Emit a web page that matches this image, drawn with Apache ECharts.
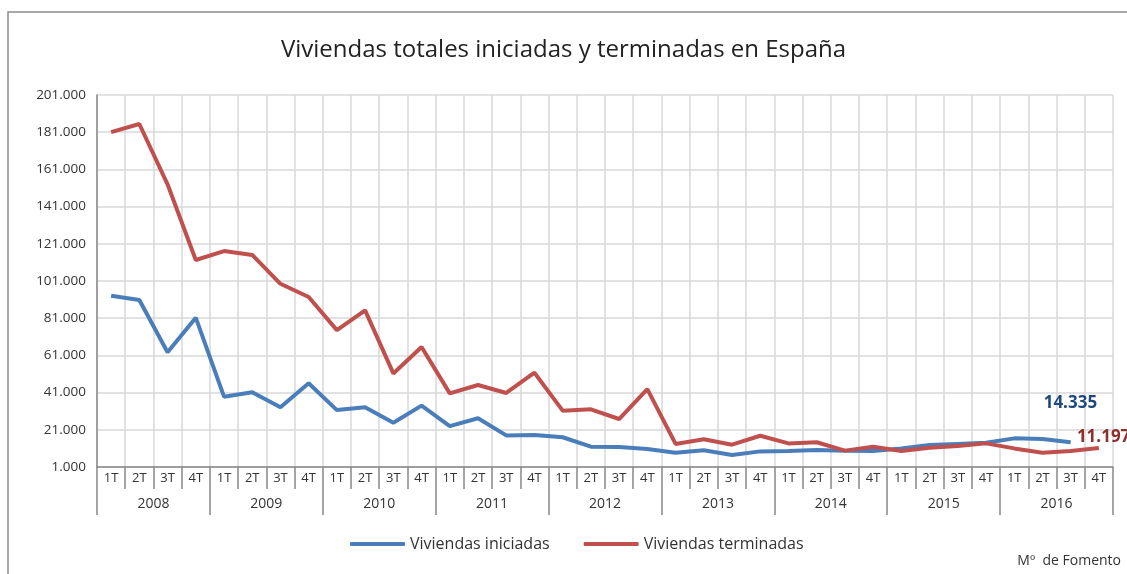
<!DOCTYPE html>
<html>
<head>
<meta charset="utf-8">
<script src="https://cdn.jsdelivr.net/npm/echarts@6/dist/echarts.min.js"></script>
<style>
  html, body { margin: 0; padding: 0; background: #fff; }
  #chart { width: 1127px; height: 574px; }
</style>
</head>
<body>
<div id="chart"></div>
<script>
// quarters and years on the two-level x axis
var quarters = [];
var years = ['2008', '2009', '2010', '2011', '2012', '2013', '2014', '2015', '2016'];
years.forEach(function () {
    quarters.push('1T', '2T', '3T', '4T');
});

// Viviendas iniciadas (ends 3T 2016)
var iniciadas = [
    93100, 90800, 62700, 81300,
    38800, 41200, 33100, 46000,
    31600, 33100, 24800, 34000,
    23000, 27200, 18000, 18200,
    17000, 11900, 11700, 10700,
    8700, 10000, 7500, 9400,
    9600, 10100, 9800, 9600,
    11000, 12800, 13400, 14000,
    16400, 16000, 14335, null
];

// Viviendas terminadas
var terminadas = [
    181000, 185400, 153000, 112300,
    117100, 115000, 99500, 92400,
    74600, 85200, 51300, 65500,
    40600, 45100, 40800, 51700,
    31300, 32000, 26800, 42900,
    13400, 15900, 13000, 17800,
    13700, 14300, 9800, 11900,
    9600, 11400, 12300, 13700,
    11000, 8700, 9600, 11197
];

function fmt(v) {
    return String(v).replace(/\B(?=(\d{3})+(?!\d))/g, '.');
}

var font = 'Open Sans';

var option = {
    animation: false,
    textStyle: { fontFamily: font },
    title: {
        text: 'Viviendas totales iniciadas y terminadas en España',
        left: 'center',
        top: 33,
        textStyle: { fontFamily: font, fontSize: 24, fontWeight: 'normal', color: '#222' }
    },
    graphic: [
        {
            type: 'rect',
            shape: { x: 8, y: 12, width: 1160, height: 600 },
            style: { fill: 'none', stroke: '#8c8c8c', lineWidth: 1.5 },
            silent: true
        },
        {
            type: 'text',
            right: 6,
            top: 554,
            style: { text: 'Mº  de Fomento', fontFamily: font, fontSize: 14, fill: '#333' }
        }
    ],
    legend: {
        bottom: 17,
        left: 345,
        itemWidth: 55,
        itemHeight: 4,
        itemGap: 34,
        icon: 'roundRect',
        textStyle: { fontFamily: font, fontSize: 16, color: '#333' },
        data: ['Viviendas iniciadas', 'Viviendas terminadas']
    },
    grid: {
        left: 97,
        right: 14,
        top: 95,
        bottom: 107
    },
    xAxis: [
        {
            type: 'category',
            data: quarters,
            position: 'bottom',
            axisLine: { lineStyle: { color: '#888', width: 1.5 } },
            axisTick: { show: true, interval: 0, length: 22, lineStyle: { color: '#888', width: 1.5 } },
            axisLabel: { interval: 0, color: '#333', fontSize: 13, margin: 5 },
            splitLine: { show: true, interval: 0, lineStyle: { color: '#d9d9d9', width: 1.5 } }
        },
        {
            type: 'category',
            data: years,
            position: 'bottom',
            offset: 22,
            axisLine: { show: false },
            axisTick: { show: true, interval: 0, length: 26, lineStyle: { color: '#888', width: 1.5 } },
            axisLabel: { interval: 0, color: '#333', fontSize: 14, margin: 8 },
            splitLine: { show: false }
        }
    ],
    yAxis: {
        type: 'value',
        min: 1000,
        max: 201000,
        interval: 20000,
        axisLine: { show: true, lineStyle: { color: '#888', width: 1.5 } },
        axisTick: { show: false },
        axisLabel: {
            color: '#333',
            fontSize: 13.5,
            margin: 11,
            formatter: function (v) { return fmt(v); }
        },
        splitLine: { show: true, lineStyle: { color: '#d9d9d9', width: 1.5 } }
    },
    series: [
        {
            name: 'Viviendas iniciadas',
            type: 'line',
            xAxisIndex: 0,
            symbol: 'none',
            color: '#4a7ebb',
            lineStyle: { width: 4 },
            endLabel: {
                show: true,
                offset: [-35, -39],
                color: '#1f497d',
                fontSize: 17,
                fontWeight: 'bold',
                fontFamily: font,
                formatter: function (p) { return fmt(p.value); }
            },
            data: iniciadas
        },
        {
            name: 'Viviendas terminadas',
            type: 'line',
            xAxisIndex: 0,
            symbol: 'none',
            color: '#c0504d',
            lineStyle: { width: 4 },
            endLabel: {
                show: true,
                offset: [-30, -11],
                color: '#8e2f2c',
                fontSize: 17,
                fontWeight: 'bold',
                fontFamily: font,
                formatter: function (p) { return fmt(p.value); }
            },
            data: terminadas
        }
    ]
};

var chart = echarts.init(document.getElementById('chart'));
chart.setOption(option);
</script>
</body>
</html>
